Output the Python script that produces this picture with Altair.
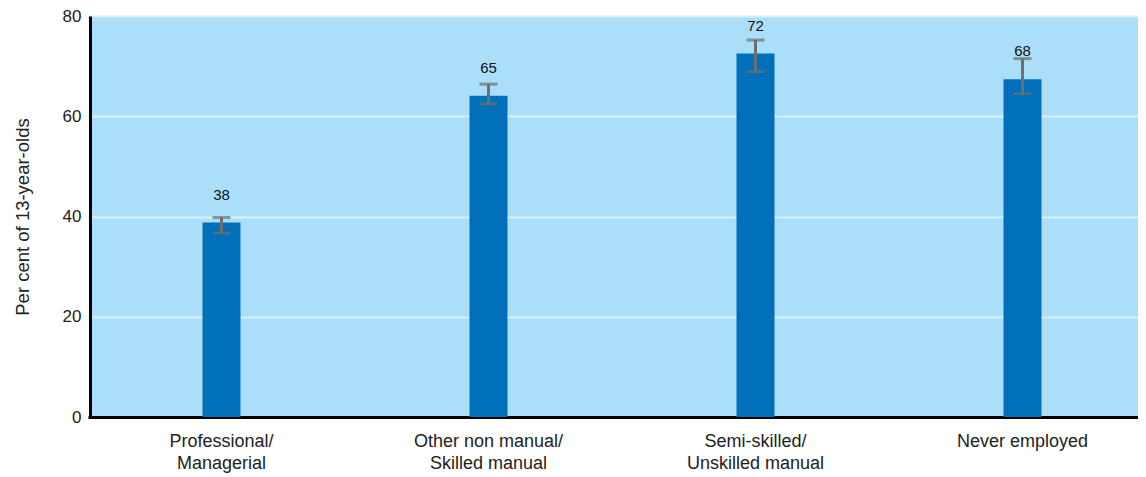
import altair as alt
import pandas as pd

categories = ["Professional/|Managerial", "Other non manual/|Skilled manual",
              "Semi-skilled/|Unskilled manual", "Never employed"]
values = [38.8, 64.1, 72.5, 67.4]
lower = [36.7, 62.5, 68.9, 64.5]
upper = [39.8, 66.4, 75.2, 71.5]
labels = ["38", "65", "72", "68"]
y_ticks = [0, 20, 40, 60, 80]

df = pd.DataFrame({"cat": categories, "value": values, "lower": lower,
                   "upper": upper, "label": labels})

FONT = "Liberation Sans"
W = 1048

xscale = alt.Scale(paddingInner=0, paddingOuter=0, range=[-2, W + 18])
x = alt.X("cat:N", sort=categories, title=None, scale=xscale,
          axis=alt.Axis(labelExpr="split(datum.label, '|')", labelAngle=0,
                        labelFontSize=18, labelColor="#222222", labelFont=FONT,
                        labelPadding=15, labelLineHeight=22, ticks=False,
                        domainColor="#000000", domainWidth=3, grid=False))
y = alt.Y("value:Q", title="Per cent of 13-year-olds",
          scale=alt.Scale(domain=[0, 80], nice=False),
          axis=alt.Axis(values=y_ticks, ticks=False, labelFontSize=17,
                        labelFont=FONT, labelColor="#222222", labelPadding=9,
                        titleFont=FONT, titleFontSize=18.5, titleFontWeight="normal",
                        titleColor="#222222", titlePadding=30,
                        domainColor="#000000", domainWidth=3,
                        grid=True, gridColor="#D6F1FD", gridWidth=2))

base = alt.Chart(df)
xs = alt.X("cat:N", sort=categories, scale=xscale)

bars = base.mark_bar(size=38, color="#0070BA").encode(x=x, y=y)
err = base.mark_rule(color="#6E6E6E", strokeWidth=3).encode(
    x=xs, y="lower:Q", y2="upper:Q")
cap_lo = base.mark_tick(color="#6E6E6E", thickness=3, size=18, orient="horizontal").encode(
    x=xs, y="lower:Q")
cap_hi = base.mark_tick(color="#6E6E6E", thickness=3, size=18, orient="horizontal").encode(
    x=xs, y="upper:Q")
text = base.mark_text(font=FONT, fontSize=15, color="#111111", dy=-20,
                      baseline="bottom").encode(
    x=xs, y="value:Q", text="label:N")

chart = alt.layer(bars, err, cap_lo, cap_hi, text).properties(
    width=W, height=401,
    autosize=alt.AutoSizeParams(type="none"),
    padding={"left": 82, "top": 8, "right": 0, "bottom": 57},
).configure_view(stroke=None, fill="#ABDFF9")

chart.save("out.html", embed_options={"renderer": "svg", "actions": False})
